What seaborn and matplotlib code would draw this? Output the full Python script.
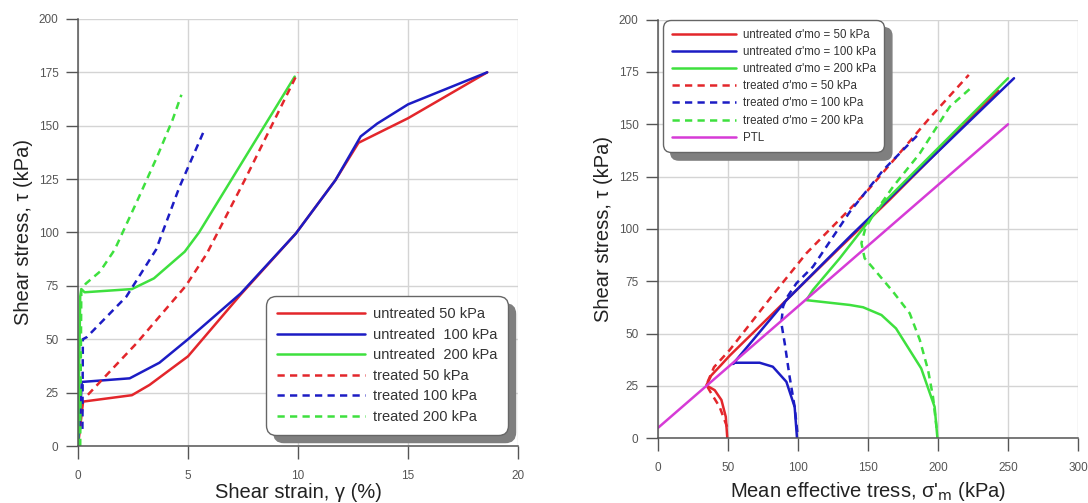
import matplotlib
matplotlib.use("Agg")
import matplotlib.pyplot as plt
import matplotlib.patches as mpatches
import seaborn as sns

# ---------------- data: left panel (shear strain vs shear stress) ----------------
u50_x = [0, 0.23, 2.45, 3.25, 5.0, 7.4, 9.9, 11.7, 12.75, 15.0, 18.6]
u50_y = [0, 20.8, 23.8, 28.6, 42, 71, 99.5, 124.5, 142, 153.5, 175]
u100_x = [0, 0.08, 0.17, 2.35, 3.7, 5.0, 7.4, 9.9, 11.7, 12.85, 13.6, 15.0, 18.6]
u100_y = [0, 12, 30, 31.7, 39, 50, 71.5, 99.5, 124.5, 145, 151, 160, 175]
u200_x = [0, 0.1, 0.15, 0.3, 2.45, 3.45, 4.85, 5.5, 9.85]
u200_y = [0, 70, 73.5, 72, 73.5, 78.5, 91, 100, 173]
t50_x = [0.45, 2.65, 4.9, 5.85, 7.6, 8.8, 10.0]
t50_y = [24, 48, 75, 90, 125, 150, 175]
t100_x = [0.2, 0.22, 0.4, 2.2, 3.55, 4.6, 5.7]
t100_y = [8, 50, 51, 70, 92, 121, 147]
t200_x = [0.1, 0.15, 0.35, 1.0, 1.67, 2.7, 3.6, 4.3, 4.7]
t200_y = [0, 73, 76, 81.7, 92, 115, 135.6, 152.8, 164.5]
left_labels = ["untreated 50 kPa", "untreated  100 kPa", "untreated  200 kPa",
               "treated 50 kPa", "treated 100 kPa", "treated 200 kPa"]

# ---------------- data: right panel (stress paths) ----------------
ru50_x = [49.5, 48.4, 45.3, 40.5, 34.5, 38, 45, 51.2, 91.7, 129.8, 165.5, 243]
ru50_y = [0, 10.3, 18.3, 23, 25.3, 30, 35, 39.5, 66, 91, 114, 166]
ru100_x = [99.3, 97.6, 91.7, 82, 72.6, 54.8, 53.5, 67.9, 91.7, 138, 254.3]
ru100_y = [0, 15, 27, 34.2, 36.1, 36.1, 35.5, 47, 66, 97, 172]
ru200_x = [199.6, 197.6, 188, 170, 159.6, 146.5, 137, 106, 110.7, 129.8, 151.2, 160.7, 250]
ru200_y = [0, 15, 33.4, 52.5, 58.9, 62.6, 63.7, 66, 70.9, 86, 104.3, 112.3, 172]
rt50_x = [49.3, 44, 38, 34.5, 40, 51.2, 82, 106, 148, 194, 222]
rt50_y = [5.5, 15, 21.5, 25.5, 34, 42.2, 68.5, 88.4, 117, 153, 173.6]
rt100_x = [99.5, 97.6, 94, 90.5, 88.1, 89.3, 91.7, 98.8, 110.7, 136.8, 160.7, 185.7]
rt100_y = [3, 15, 29.4, 45.4, 55, 62.9, 66.9, 74, 82, 108, 128, 145]
rt200_x = [199, 196.4, 192.9, 187, 179.8, 167.9, 154.8, 147.6, 145.3, 148, 153, 167.9, 186.9, 208.4, 224.6]
rt200_y = [5, 19.9, 32.6, 47, 59.7, 70, 80.4, 86, 93.2, 100, 106, 120.2, 136, 158.4, 168]
ptl_x = [0, 250]
ptl_y = [5, 150]
right_labels = ["untreated σ'mo = 50 kPa", "untreated σ'mo = 100 kPa", "untreated σ'mo = 200 kPa",
                "treated σ'mo = 50 kPa", "treated σ'mo = 100 kPa", "treated σ'mo = 200 kPa", "PTL"]

x_ticks_left = [0, 5, 10, 15, 20]
x_ticks_right = [0, 50, 100, 150, 200, 250, 300]
y_ticks = [0, 25, 50, 75, 100, 125, 150, 175, 200]

# ---------------- style ----------------
sns.set_theme(style="white")
plt.rcParams["font.family"] = ["Liberation Sans", "DejaVu Sans"]

RED = "#e3262b"
BLUE = "#1c1cc4"
GREEN = "#3ee03e"
MAGENTA = "#d63bd6"
DASH = (0, (2.9, 2.1))
LW = 1.8

fig = plt.figure(figsize=(10.88, 5.03), dpi=100)
axL = fig.add_axes([0.0717, 0.1133, 0.4044, 0.849])
axR = fig.add_axes([0.6048, 0.1286, 0.386, 0.8324])


def draw(ax, xs, ys, color, ls, label):
    sns.lineplot(x=xs, y=ys, ax=ax, sort=False, estimator=None, color=color,
                 linestyle=ls, linewidth=LW, label=label)


left_series = [(u50_x, u50_y, RED, "-"), (u100_x, u100_y, BLUE, "-"), (u200_x, u200_y, GREEN, "-"),
               (t50_x, t50_y, RED, DASH), (t100_x, t100_y, BLUE, DASH), (t200_x, t200_y, GREEN, DASH)]
for (xs, ys, c, ls), lab in zip(left_series, left_labels):
    draw(axL, xs, ys, c, ls, lab)

right_series = [(ru50_x, ru50_y, RED, "-"), (ru100_x, ru100_y, BLUE, "-"), (ru200_x, ru200_y, GREEN, "-"),
                (rt50_x, rt50_y, RED, DASH), (rt100_x, rt100_y, BLUE, DASH), (rt200_x, rt200_y, GREEN, DASH),
                (ptl_x, ptl_y, MAGENTA, "-")]
for (xs, ys, c, ls), lab in zip(right_series, right_labels):
    draw(axR, xs, ys, c, ls, lab)


def style_axes(ax, xticks, xmax, xpad):
    ax.set_xlim(0, xmax)
    ax.set_ylim(0, 200)
    ax.set_xticks(xticks)
    ax.set_yticks(y_ticks)
    ax.grid(True, color="#d4d4d4", linewidth=1.0)
    ax.set_axisbelow(True)
    for s in ["top", "right"]:
        ax.spines[s].set_visible(False)
    for s in ["left", "bottom"]:
        ax.spines[s].set_color("#555555")
        ax.spines[s].set_linewidth(1.1)
    ax.tick_params(axis="both", direction="out", length=9, width=1.0, color="#555555",
                   labelsize=8.5, labelcolor="#555555", left=True, bottom=True)
    ax.tick_params(axis="y", pad=5)
    ax.tick_params(axis="x", pad=xpad)


style_axes(axL, x_ticks_left, 20, 8.5)
style_axes(axR, x_ticks_right, 300, 8)

axL.set_xlabel("Shear strain, γ (%)", fontsize=14.5, color="#222222")
axL.set_ylabel("Shear stress, τ (kPa)", fontsize=14.5, color="#222222")
axL.xaxis.set_label_coords(0.5, -0.087)
axL.yaxis.set_label_coords(-0.102, 0.5)

axR.set_xlabel("Mean effective tress, σ'$_{\\mathrm{m}}$ (kPa)", fontsize=14.5, color="#222222")
axR.set_ylabel("Shear stress, τ (kPa)", fontsize=14.5, color="#222222")
axR.xaxis.set_label_coords(0.5, -0.1)
axR.yaxis.set_label_coords(-0.107, 0.5)


def make_legend(ax, loc, anchor, fs, hl, ls, bp):
    leg = ax.legend(loc=loc, bbox_to_anchor=anchor, borderaxespad=0, fontsize=fs,
                    handlelength=hl, handletextpad=0.55, labelspacing=ls, borderpad=bp,
                    frameon=True, fancybox=True, framealpha=1, edgecolor="#666666",
                    facecolor="white")
    leg.get_frame().set_linewidth(1.0)
    leg.legendPatch.set_boxstyle("round", pad=0, rounding_size=0.7)
    for t in leg.get_texts():
        t.set_color("#333333")
    sh = mpatches.Shadow(leg.legendPatch, 5.5, -5.5, color="#7f7f7f", alpha=1)
    sh.set_clip_on(False)
    sh.set_zorder(leg.get_zorder() - 0.1)
    ax.add_artist(sh)
    return leg


make_legend(axL, "lower right", (0.977, 0.026), 10.5, 6.0, 0.45, 0.75)
make_legend(axR, "upper left", (0.012, 0.999), 8.3, 5.6, 0.45, 0.75)

fig.canvas.draw()
fig.savefig("out.png", dpi=100)
